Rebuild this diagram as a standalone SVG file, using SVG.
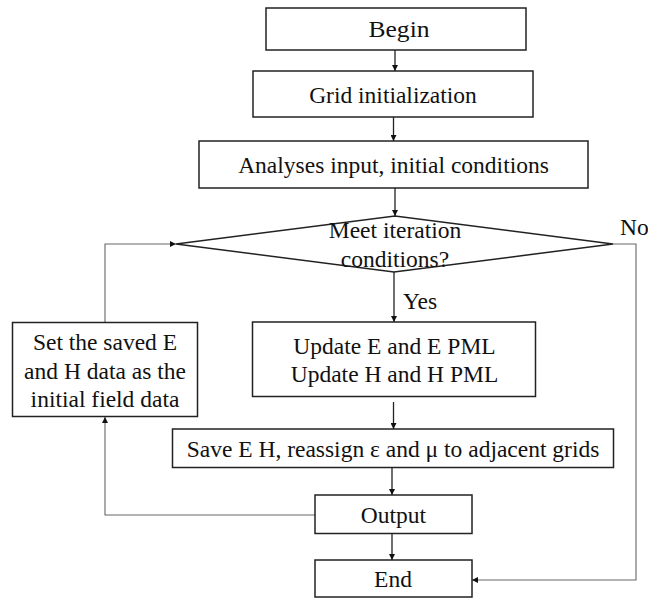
<svg xmlns="http://www.w3.org/2000/svg" width="648" height="598" viewBox="0 0 648 598">
<defs>
<style>
.box{fill:#fff;stroke:#222;stroke-width:1.5}
.t{font-family:"Liberation Serif","Times New Roman",serif;font-size:23.5px;fill:#111;text-anchor:middle}
.c{fill:none;stroke:#222;stroke-width:1.3}
.g{fill:none;stroke:#666;stroke-width:1.1}
</style>
<marker id="ah" viewBox="0 0 10 10" refX="10" refY="5" markerWidth="6" markerHeight="6" markerUnits="userSpaceOnUse" orient="auto">
<path d="M0,0 L10,5 L0,10 z" fill="#111"/>
</marker>
</defs>
<rect width="648" height="598" fill="#fff"/>
<g id="connectors">
<line class="c" x1="395" y1="50" x2="395" y2="71" marker-end="url(#ah)"/>
<line class="c" x1="393.5" y1="117" x2="393.5" y2="141" marker-end="url(#ah)"/>
<line class="c" x1="395" y1="188" x2="395" y2="216" marker-end="url(#ah)"/>
<line class="c" x1="394" y1="272" x2="394" y2="322" marker-end="url(#ah)"/>
<line class="c" x1="393.5" y1="402" x2="393.5" y2="429" marker-end="url(#ah)"/>
<line class="c" x1="392" y1="467" x2="392" y2="495" marker-end="url(#ah)"/>
<line class="c" x1="392" y1="533" x2="392" y2="560" marker-end="url(#ah)"/>
<polyline class="g" points="315,515 105,515 105,417" marker-end="url(#ah)"/>
<polyline class="g" points="105,322 105,244 176,244" marker-end="url(#ah)"/>
<polyline class="g" points="613,244 636,244 636,580 472,580" marker-end="url(#ah)"/>
<text class="t" x="403" y="309" style="text-anchor:start">Yes</text>
<text class="t" x="620" y="235" style="text-anchor:start">No</text>
</g>
<g id="begin">
<rect class="box" x="266" y="8" width="260" height="42"/>
<text class="t" x="399" y="37" textLength="61" lengthAdjust="spacingAndGlyphs">Begin</text>
</g>
<g id="grid">
<rect class="box" x="253" y="71" width="280" height="46"/>
<text class="t" x="393" y="102.5">Grid initialization</text>
</g>
<g id="analyses">
<rect class="box" x="199" y="141" width="389" height="47"/>
<text class="t" x="393.5" y="173">Analyses input, initial conditions</text>
</g>
<g id="decision">
<polygon class="box" points="176,244 395,216 613,244 394,272"/>
<text class="t" x="395" y="238">Meet iteration</text>
<text class="t" x="395" y="266.5">conditions?</text>
</g>
<g id="update">
<rect class="box" x="252.5" y="322" width="283" height="74.5"/>
<text class="t" x="394.5" y="354">Update E and E PML</text>
<text class="t" x="394.5" y="381.5">Update H and H PML</text>
</g>
<g id="save">
<rect class="box" x="172.5" y="429" width="441" height="38.5"/>
<text class="t" x="393" y="456.5">Save E H, reassign ε and μ to adjacent grids</text>
</g>
<g id="output">
<rect class="box" x="315" y="495" width="157" height="38.5"/>
<text class="t" x="393.5" y="522.5">Output</text>
</g>
<g id="end">
<rect class="box" x="315" y="560" width="157" height="37"/>
<text class="t" x="393" y="586.5">End</text>
</g>
<g id="setdata">
<rect class="box" x="12.5" y="322.5" width="185" height="94"/>
<text class="t" x="105" y="350">Set the saved E</text>
<text class="t" x="105" y="378.5">and H data as the</text>
<text class="t" x="105" y="406.5">initial field data</text>
</g>
</svg>
